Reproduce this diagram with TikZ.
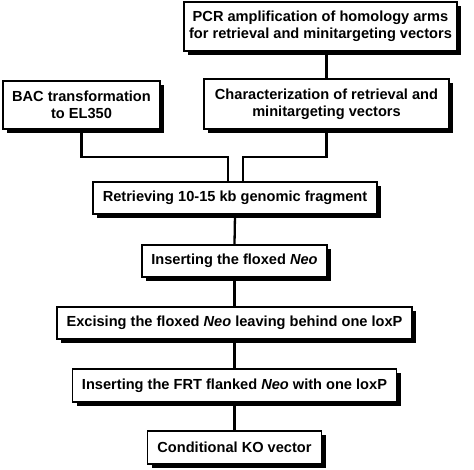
\documentclass[tikz,border=0pt]{standalone}
\usepackage{fontspec}
\setmainfont{Liberation Sans}
\usepackage{tikz}
\usetikzlibrary{shadows}
\tikzset{>=latex}
\usepackage{xcolor}
\colorlet{boxcol}{black}
\colorlet{linecol}{black}
\tikzstyle{stepbox}=[draw=boxcol,line width=1.6pt,fill=white,align=center,
                     inner sep=0pt,font=\fontsize{14.6}{17}\selectfont\bfseries,
                     drop shadow={shadow xshift=4pt,shadow yshift=-4pt,fill=black,opacity=1}]
\tikzstyle{link}=[draw=linecol,line width=2.3pt]

\begin{document}
\begin{tikzpicture}[x=1pt,y=-1pt]
  \def\xl{228}
  \def\xr{243}
  \def\yj{157}

  \useasboundingbox (0,0) rectangle (474,469);

  % BOXES
  \node[stepbox,minimum width=273,minimum height=49] (pcr) at (320.5,26.5)
    {PCR amplification of homology arms\\for retrieval and minitargeting vectors};
  \node[stepbox,minimum width=157,minimum height=48] (bac) at (81.5,105)
    {BAC transformation\\to EL350};
  \node[stepbox,minimum width=245,minimum height=50] (char) at (326.5,104)
    {Characterization of retrieval and\\minitargeting vectors};
  \node[stepbox,minimum width=284,minimum height=32] (retr) at (235,198)
    {Retrieving 10-15 kb genomic fragment};
  \node[stepbox,minimum width=185,minimum height=32] (ins) at (234.5,261)
    {Inserting the floxed \textit{Neo}};
  \node[stepbox,minimum width=355,minimum height=32] (exc) at (234.5,323)
    {Excising the floxed \textit{Neo} leaving behind one loxP};
  \node[stepbox,minimum width=324,minimum height=33] (frt) at (234.5,385.5)
    {Inserting the FRT flanked \textit{Neo} with one loxP};
  \node[stepbox,minimum width=174,minimum height=33] (cond) at (234.5,447.5)
    {Conditional KO vector};

  % JOINS
  \coordinate (jl) at (\xl,\yj);
  \coordinate (jr) at (\xr,\yj);

  % LINKS
  \draw[link] (pcr.south -| char) -- (char.north);
  \draw[link] (bac.south) |- (jl) -- (jl |- retr.north);
  \draw[link] (char.south) |- (jr) -- (jr |- retr.north);
  \draw[link] (retr.south) -- (ins.north);
  \draw[link] (ins.south) -- (exc.north);
  \draw[link] (exc.south) -- (frt.north);
  \draw[link] (frt.south) -- (cond.north);

\end{tikzpicture}
\end{document}
